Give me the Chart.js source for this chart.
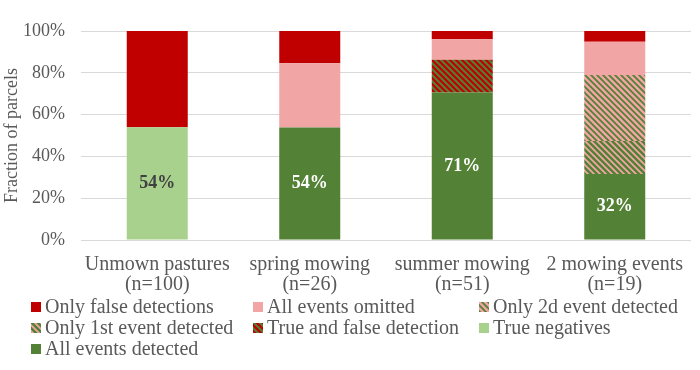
<!DOCTYPE html>
<html>
<head>
<meta charset="utf-8">
<script src="https://cdn.jsdelivr.net/npm/chart.js@4"></script>
<style>
  html, body { margin: 0; padding: 0; background: #fff; }
  #wrap { width: 700px; height: 370px; }
</style>
</head>
<body>
<div id="wrap"><canvas id="chart1"></canvas></div>
<script>
// categories (two-line labels)
var categories = [
    ['Unmown pastures', '(n=100)'],
    ['spring mowing', '(n=26)'],
    ['summer mowing', '(n=51)'],
    ['2 mowing events', '(n=19)']
];
var yTicks = [0, 20, 40, 60, 80, 100];

// series values, % of parcels (stacked bottom to top)
var allDetected    = [0, 53.8, 70.6, 31.6];
var trueNegatives  = [54, 0, 0, 0];
var trueAndFalse   = [0, 0, 15.7, 0];
var only1st        = [0, 0, 0, 15.8];
var only2d         = [0, 0, 0, 31.6];
var allOmitted     = [0, 30.8, 9.8, 15.8];
var onlyFalse      = [46, 15.4, 3.9, 5.2];

var RED = '#c00000', PINK = '#f2a5a5', LGREEN = '#a9d18e', GREEN = '#538135';
var TXT = '#595959';
var FONT = '"Liberation Serif", "Times New Roman", serif';

// diagonal hatch pattern
function stripes(bg, fg, w) {
    var n = 6;
    var c = document.createElement('canvas');
    c.width = n; c.height = n;
    var x = c.getContext('2d');
    x.fillStyle = bg;
    x.fillRect(0, 0, n, n);
    x.strokeStyle = fg;
    x.lineWidth = w;
    x.beginPath();
    x.moveTo(-1, -1); x.lineTo(n + 1, n + 1);
    x.moveTo(-n - 1, -1); x.lineTo(1, n + 1);
    x.moveTo(n - 1, -1); x.lineTo(2 * n + 1, n + 1);
    x.stroke();
    return x.createPattern(c, 'repeat');
}

var datasets = [
    { label: 'All events detected', data: allDetected, backgroundColor: GREEN, valueLabel: '#ffffff' },
    { label: 'True negatives', data: trueNegatives, backgroundColor: LGREEN, valueLabel: '#404040' },
    { label: 'True and false detection', data: trueAndFalse, backgroundColor: stripes(GREEN, RED, 2.2) },
    { label: 'Only 1st event detected', data: only1st, backgroundColor: stripes(GREEN, PINK, 1.8) },
    { label: 'Only 2d event detected', data: only2d, backgroundColor: stripes(PINK, GREEN, 1.8) },
    { label: 'All events omitted', data: allOmitted, backgroundColor: PINK },
    { label: 'Only false detections', data: onlyFalse, backgroundColor: RED }
];

// value labels inside the bars
var valueLabels = {
    id: 'valueLabels',
    afterDatasetsDraw: function(chart) {
        var ctx = chart.ctx;
        ctx.save();
        ctx.font = 'bold 18px ' + FONT;
        ctx.textAlign = 'center';
        ctx.textBaseline = 'middle';
        chart.data.datasets.forEach(function(ds, i) {
            if (!ds.valueLabel) return;
            chart.getDatasetMeta(i).data.forEach(function(bar, j) {
                var v = ds.data[j];
                if (!v) return;
                ctx.fillStyle = ds.valueLabel;
                ctx.fillText(Math.round(v) + '%', bar.x, (bar.y + bar.base) / 2);
            });
        });
        ctx.restore();
    }
};

// 3-column legend, top of stack first
var gridLegend = {
    id: 'gridLegend',
    afterDraw: function(chart) {
        var ctx = chart.ctx;
        var cols = [31, 253, 479];
        var top = chart.chartArea.bottom + 67;
        var items = chart.data.datasets.slice().reverse();
        ctx.save();
        ctx.font = '20px ' + FONT;
        ctx.textBaseline = 'middle';
        items.forEach(function(ds, k) {
            var cx = cols[k % 3];
            var cy = top + Math.floor(k / 3) * 21;
            ctx.fillStyle = ds.backgroundColor;
            ctx.fillRect(cx, cy - 5, 10, 10);
            ctx.fillStyle = TXT;
            ctx.fillText(ds.label, cx + 14, cy + 1);
        });
        ctx.restore();
    }
};

new Chart(document.getElementById('chart1'), {
    type: 'bar',
    data: { labels: categories, datasets: datasets },
    options: {
        responsive: true,
        maintainAspectRatio: false,
        animation: false,
        layout: { padding: { left: 0, right: 9, top: 31, bottom: 0 } },
        datasets: { bar: { categoryPercentage: 1, barPercentage: 0.4 } },
        plugins: {
            legend: { display: false },
            tooltip: { enabled: false }
        },
        scales: {
            x: {
                stacked: true,
                grid: { display: false },
                border: { display: false },
                ticks: {
                    color: TXT,
                    padding: 7,
                    maxRotation: 0,
                    font: { family: FONT, size: 20, lineHeight: 1.0 }
                },
                afterFit: function(s) { s.height = 130; }
            },
            y: {
                stacked: true,
                min: 0,
                max: 100,
                afterBuildTicks: function(s) {
                    s.ticks = yTicks.map(function(v) { return { value: v }; });
                },
                grid: { color: '#d9d9d9', drawTicks: false },
                border: { display: false },
                ticks: {
                    color: TXT,
                    padding: 16,
                    font: { family: FONT, size: 18 },
                    callback: function(v) { return v + '%'; }
                },
                title: {
                    display: true,
                    text: 'Fraction of parcels',
                    color: TXT,
                    padding: 1,
                    font: { family: FONT, size: 18 }
                },
                afterFit: function(s) { s.width = 81; }
            }
        }
    },
    plugins: [valueLabels, gridLegend]
});
</script>
</body>
</html>
